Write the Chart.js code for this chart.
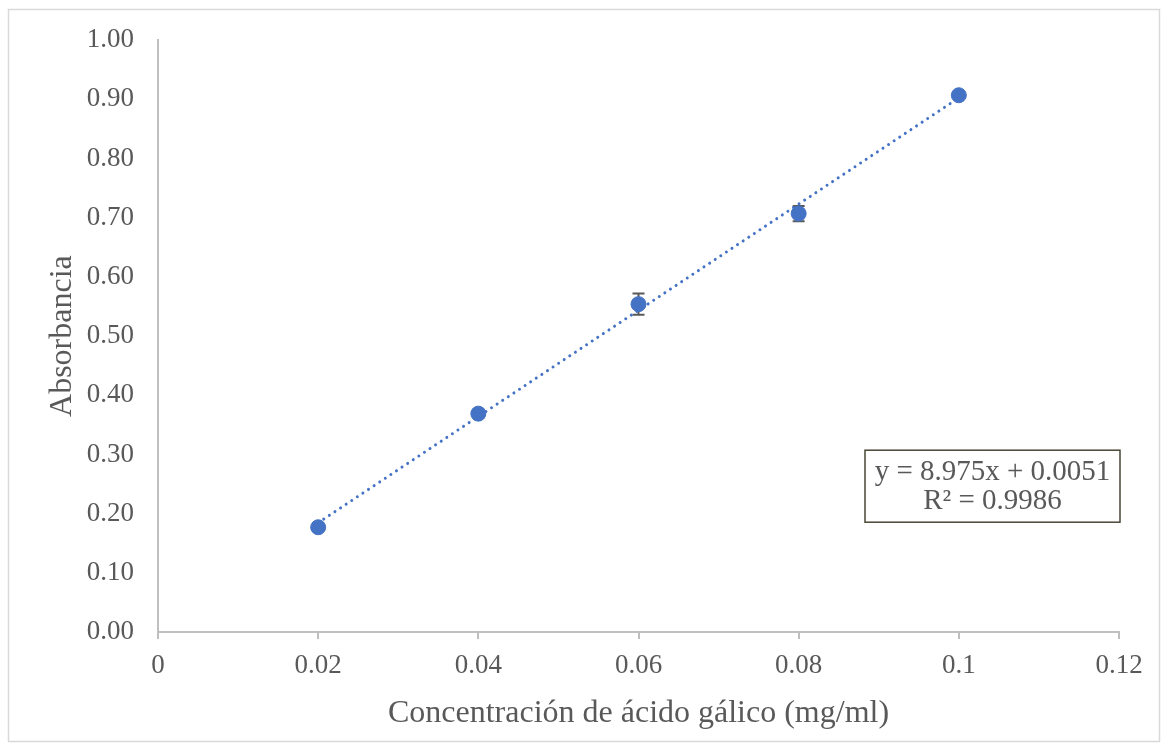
<!DOCTYPE html>
<html>
<head>
<meta charset="utf-8">
<script src="https://cdn.jsdelivr.net/npm/chart.js@4.4.1/dist/chart.umd.min.js"></script>
<style>
  html, body { margin: 0; padding: 0; background: #fff; }
  canvas { display: block; }
</style>
</head>
<body>
<canvas id="curve" width="1168" height="751"></canvas>
<script>
// calibration curve for gallic acid
const concentrations = [0.02, 0.04, 0.06, 0.08, 0.1];
const absorbances = [0.177, 0.369, 0.554, 0.707, 0.907];
const absErrors = [0.006, 0.005, 0.018, 0.013, 0.004];

const xTickLabels = ["0", "0.02", "0.04", "0.06", "0.08", "0.1", "0.12"];
const yTickLabels = ["0.00", "0.10", "0.20", "0.30", "0.40", "0.50", "0.60", "0.70", "0.80", "0.90", "1.00"];

// linear fit shown in the box
const slope = 8.975;
const intercept = 0.0051;
const fitLines = ["y = 8.975x + 0.0051", "R² = 0.9986"];

const BLUE = "#4472C4";
const GREY_TEXT = "#595959";
const AXIS = "#BFBFBF";
const SERIF = "'Liberation Serif', 'Times New Roman', serif";

const xFirst = concentrations[0];
const xLast = concentrations[concentrations.length - 1];
const trendPoints = [
  { x: xFirst, y: slope * xFirst + intercept },
  { x: xLast, y: slope * xLast + intercept }
];

const errorBars = {
  id: "errorBars",
  beforeDatasetsDraw(chart) {
    const { ctx, scales: { x, y } } = chart;
    ctx.save();
    ctx.strokeStyle = "#595959";
    ctx.lineWidth = 2;
    concentrations.forEach((c, i) => {
      const px = x.getPixelForValue(c);
      const top = y.getPixelForValue(absorbances[i] + absErrors[i]);
      const bot = y.getPixelForValue(absorbances[i] - absErrors[i]);
      ctx.beginPath();
      ctx.moveTo(px, top);
      ctx.lineTo(px, bot);
      ctx.moveTo(px - 6, top);
      ctx.lineTo(px + 6, top);
      ctx.moveTo(px - 6, bot);
      ctx.lineTo(px + 6, bot);
      ctx.stroke();
    });
    ctx.restore();
  }
};

const frameAndBox = {
  id: "frameAndBox",
  beforeDraw(chart) {
    const ctx = chart.ctx;
    ctx.save();
    ctx.fillStyle = "#fff";
    ctx.fillRect(0, 0, chart.width, chart.height);
    ctx.strokeStyle = "#D9D9D9";
    ctx.lineWidth = 1.5;
    ctx.strokeRect(8.5, 9.5, chart.width - 17, chart.height - 19);
    ctx.restore();
  },
  afterDraw(chart) {
    const { ctx, chartArea } = chart;
    const w = 255, h = 72;
    const bx = chartArea.right - w + 1;
    const by = chartArea.top + 410;
    ctx.save();
    ctx.fillStyle = "#fff";
    ctx.fillRect(bx, by, w, h);
    ctx.strokeStyle = "#4A4536";
    ctx.lineWidth = 1.5;
    ctx.strokeRect(bx, by, w, h);
    ctx.fillStyle = GREY_TEXT;
    ctx.font = "29px " + SERIF;
    ctx.textAlign = "center";
    ctx.textBaseline = "middle";
    ctx.fillText(fitLines[0], bx + w / 2, by + 22);
    ctx.fillText(fitLines[1], bx + w / 2, by + 51);
    ctx.restore();
  }
};

new Chart(document.getElementById("curve"), {
  type: "scatter",
  data: {
    datasets: [
      {
        label: "Absorbancia",
        data: concentrations.map((c, i) => ({ x: c, y: absorbances[i] })),
        backgroundColor: BLUE,
        borderColor: BLUE,
        pointRadius: 7.5,
        pointHoverRadius: 7.5,
        showLine: false,
        order: 0
      },
      {
        label: "Lineal",
        type: "line",
        data: trendPoints,
        borderColor: BLUE,
        borderWidth: 3,
        borderDash: [0.01, 6.7],
        borderCapStyle: "round",
        pointRadius: 0,
        fill: false,
        order: 1
      }
    ]
  },
  options: {
    responsive: false,
    animation: false,
    layout: { padding: { left: 10, right: 49, top: 39, bottom: 10 } },
    plugins: {
      legend: { display: false },
      tooltip: { enabled: false }
    },
    scales: {
      x: {
        type: "linear",
        min: 0,
        max: 0.12,
        afterBuildTicks(scale) {
          scale.ticks = xTickLabels.map((_, i) => ({ value: i * 0.02 }));
        },
        afterFit(scale) { scale.height = 109; },
        grid: {
          drawOnChartArea: false,
          drawTicks: true,
          tickLength: 7,
          color: AXIS,
          lineWidth: 2
        },
        border: { color: AXIS, width: 2 },
        ticks: {
          color: GREY_TEXT,
          font: { family: SERIF, size: 27 },
          padding: 11,
          maxRotation: 0,
          callback: (v, i) => xTickLabels[i]
        },
        title: {
          display: true,
          text: "Concentración de ácido gálico (mg/ml)",
          color: GREY_TEXT,
          font: { family: SERIF, size: 32 },
          padding: { top: 0, bottom: 8 }
        }
      },
      y: {
        type: "linear",
        min: 0,
        max: 1,
        afterBuildTicks(scale) {
          scale.ticks = yTickLabels.map((_, i) => ({ value: i / 10 }));
        },
        afterFit(scale) { scale.width = 148; },
        grid: { display: false, drawTicks: false, tickLength: 0 },
        border: { color: AXIS, width: 2 },
        ticks: {
          color: GREY_TEXT,
          font: { family: SERIF, size: 27 },
          padding: 24,
          callback: (v, i) => yTickLabels[i]
        },
        title: {
          display: true,
          text: "Absorbancia",
          color: GREY_TEXT,
          font: { family: SERIF, size: 32 },
          padding: { top: 33, bottom: 0 }
        }
      }
    }
  },
  plugins: [frameAndBox, errorBars]
});
</script>
</body>
</html>
